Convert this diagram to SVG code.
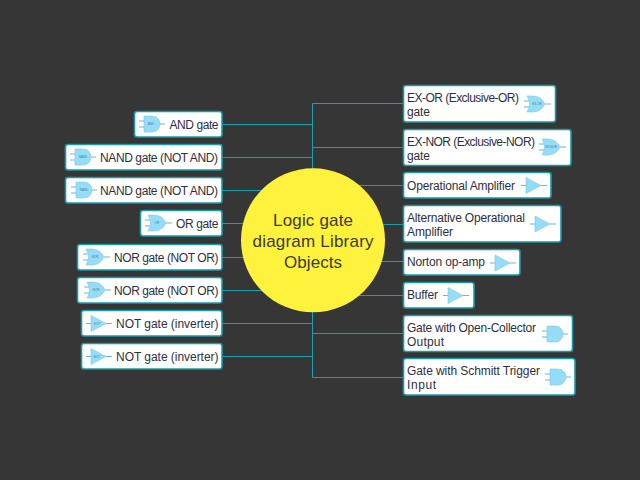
<svg xmlns="http://www.w3.org/2000/svg" width="640" height="480" viewBox="0 0 640 480">
<style>
.box{fill:#fff;stroke:#1a9ba8;stroke-width:1.6}
.t{font-family:"Liberation Sans",Arial,sans-serif;font-size:12px;fill:#2f2f3a}
.c{fill:none;stroke:#1a9fae;stroke-width:1}
.g{fill:#95dcf7;stroke:#7cc8e4;stroke-width:.6}
.w{fill:none;stroke:#4aa3bd;stroke-width:.8}
.s{font-family:"Liberation Sans",sans-serif;font-size:3px;fill:#3f7f9f;text-anchor:middle}
.m{font-family:"Liberation Sans",Arial,sans-serif;font-size:17px;fill:#3a3a3a}
</style>
<defs>
<g id="and"><path class="w" d="M-5-3H0M-5 3H0M16 0H21"/><path class="g" d="M0-8H8A8 8 0 0 1 8 8H0Z"/></g>
<g id="or"><path class="w" d="M-4-3H2M-4 3H2M17 0H23"/><path class="g" d="M-1-8H5Q13-8 17 0Q13 8 5 8H-1Q4 0-1-8Z"/></g>
<g id="tri"><path class="w" d="M-5 0H0M15 0H21"/><path class="g" d="M0-8L15 0L0 8Z"/></g>
</defs>
<rect width="640" height="480" fill="#363636"/>
<g id="connectors" class="c">
<path d="M312.500 103.500V377.500"/>
<path d="M222 124.500H312.500M222 157.500H312.500M222 190.500H312.500M222 223.500H312.500M222 257.500H312.500M222 290.500H312.500M222 323.500H312.500M222 356.500H312.500"/>
<path d="M312.500 103.500H403M312.500 147.500H403M312.500 185.500H403M312.500 224.500H403M312.500 261.500H403M312.500 295.500H403M312.500 333.500H403M312.500 377.500H403"/>
</g>
<g id="center"><circle cx="313" cy="240.300" r="72" fill="#fff23c"/>
<text class="m" x="273" y="226" textLength="80">Logic gate</text><text class="m" x="252.500" y="247" textLength="121">diagram Library</text><text class="m" x="284" y="268" textLength="58">Objects</text></g>
<g id="and-gate"><rect class="box" x="134.500" y="111.500" width="87.500" height="25.500" rx="2.500"/><use href="#and" x="144" y="124"/><text class="s" x="151" y="125">AND</text><text class="t" x="169.500" y="128.500" textLength="49">AND gate</text></g>
<g id="nand-1"><rect class="box" x="65.500" y="144.500" width="156.500" height="25.500" rx="2.500"/><use href="#and" x="75" y="157"/><text class="s" x="83" y="158">NAND</text><text class="t" x="100" y="161.500" textLength="118">NAND gate (NOT AND)</text></g>
<g id="nand-2"><rect class="box" x="65.500" y="177.500" width="156.500" height="25.500" rx="2.500"/><use href="#and" x="76" y="190"/><text class="s" x="84" y="191">NAND</text><text class="t" x="100" y="194.500" textLength="118">NAND gate (NOT AND)</text></g>
<g id="or-gate"><rect class="box" x="140.500" y="210.500" width="81.500" height="25.500" rx="2.500"/><use href="#or" x="149" y="223"/><text class="s" x="157" y="224">OR</text><text class="t" x="176" y="228" textLength="42.500">OR gate</text></g>
<g id="nor-1"><rect class="box" x="77.500" y="244.500" width="144.500" height="25.500" rx="2.500"/><use href="#or" x="87" y="257"/><text class="s" x="95" y="258">NOR</text><text class="t" x="114" y="261.500" textLength="104.500">NOR gate (NOT OR)</text></g>
<g id="nor-2"><rect class="box" x="77.500" y="277.500" width="144.500" height="25.500" rx="2.500"/><use href="#or" x="88" y="290"/><text class="s" x="96" y="291">NOR</text><text class="t" x="114" y="294.500" textLength="104.500">NOR gate (NOT OR)</text></g>
<g id="not-1"><rect class="box" x="81.500" y="310.500" width="140.500" height="25.500" rx="2.500"/><use href="#tri" x="91" y="323.500"/><text class="s" x="97" y="324.500">NOT</text><text class="t" x="116" y="327.500" textLength="102.500">NOT gate (inverter)</text></g>
<g id="not-2"><rect class="box" x="81.500" y="343.500" width="140.500" height="25.500" rx="2.500"/><use href="#tri" x="91" y="356.500"/><text class="s" x="97" y="357.500">NOT</text><text class="t" x="116" y="360.500" textLength="102.500">NOT gate (inverter)</text></g>
<g id="ex-or"><rect class="box" x="403.500" y="85.500" width="152" height="36.500" rx="2.500"/><text class="t" x="407" y="102" textLength="112">EX-OR (Exclusive-OR)</text><text class="t" x="407" y="116" textLength="23">gate</text><use href="#or" x="528" y="104"/><text class="s" x="537" y="105">EX-OR</text></g>
<g id="ex-nor"><rect class="box" x="403.500" y="129.500" width="167.500" height="36" rx="2.500"/><text class="t" x="407" y="146" textLength="128">EX-NOR (Exclusive-NOR)</text><text class="t" x="407" y="160" textLength="23">gate</text><use href="#or" x="543" y="147"/><text class="s" x="551" y="148">EX-NOR</text></g>
<g id="op-amp"><rect class="box" x="403.500" y="172.500" width="147.500" height="25.500" rx="2.500"/><text class="t" x="407" y="189.500" textLength="108">Operational Amplifier</text><use href="#tri" x="526" y="185.500"/></g>
<g id="alt-op-amp"><rect class="box" x="403.500" y="205.500" width="157.500" height="36.500" rx="2.500"/><text class="t" x="407" y="221.500" textLength="118">Alternative Operational</text><text class="t" x="407" y="236" textLength="46">Amplifier</text><use href="#tri" x="535" y="224"/></g>
<g id="norton"><rect class="box" x="403.500" y="249.500" width="116.500" height="25.500" rx="2.500"/><text class="t" x="407" y="266" textLength="78">Norton op-amp</text><use href="#tri" x="495" y="263"/></g>
<g id="buffer"><rect class="box" x="403.500" y="282.500" width="70.500" height="25.500" rx="2.500"/><text class="t" x="407" y="299" textLength="31">Buffer</text><use href="#tri" x="448" y="295.500"/></g>
<g id="open-collector"><rect class="box" x="403.500" y="315.500" width="169" height="36" rx="2.500"/><text class="t" x="407" y="331.500" textLength="129">Gate with Open-Collector</text><text class="t" x="407" y="345.500" textLength="37">Output</text><use href="#and" x="547" y="334"/></g>
<g id="schmitt"><rect class="box" x="403.500" y="358.500" width="171.500" height="36.500" rx="2.500"/><text class="t" x="407" y="375" textLength="133">Gate with Schmitt Trigger</text><text class="t" x="407" y="389" textLength="29">Input</text><use href="#and" x="550" y="377"/></g>
</svg>
